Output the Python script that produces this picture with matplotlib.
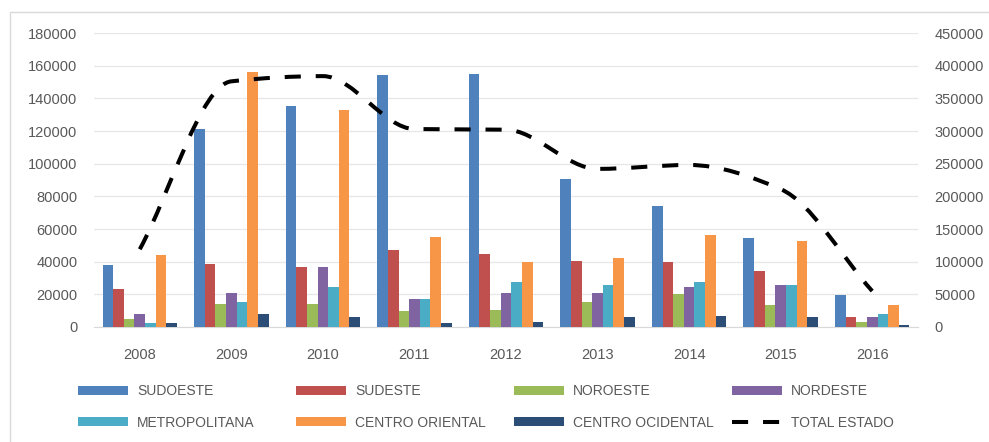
import matplotlib
matplotlib.use("Agg")
import matplotlib.pyplot as plt
import numpy as np
from matplotlib.path import Path
from matplotlib.patches import PathPatch, Rectangle
from matplotlib.lines import Line2D

plt.rcParams['font.family'] = ['Liberation Sans', 'DejaVu Sans']

years = ["2008", "2009", "2010", "2011", "2012", "2013", "2014", "2015", "2016"]
sudoeste = [38000, 121500, 135500, 154000, 155000, 90500, 74000, 54500, 19500]
sudeste = [23000, 38500, 37000, 47000, 45000, 40500, 39500, 34000, 6000]
noroeste = [5000, 14300, 14300, 9800, 10700, 15300, 20000, 13500, 3300]
nordeste = [8000, 21000, 37000, 17200, 21000, 21000, 24500, 25600, 6000]
metropolitana = [2500, 15300, 24500, 17200, 27400, 25600, 27400, 25600, 8000]
centro_oriental = [44000, 156000, 132700, 55200, 39700, 42300, 56300, 52600, 13500]
centro_ocidental = [2500, 8000, 6000, 2500, 3300, 6000, 7000, 6000, 1500]
total_estado = [119000, 376000, 384000, 303000, 302000, 242000, 248000, 211000, 55000]

series = [
    ("SUDOESTE", sudoeste, "#4F81BD"),
    ("SUDESTE", sudeste, "#C0504D"),
    ("NOROESTE", noroeste, "#9BBB59"),
    ("NORDESTE", nordeste, "#8064A2"),
    ("METROPOLITANA", metropolitana, "#4BACC6"),
    ("CENTRO ORIENTAL", centro_oriental, "#F79646"),
    ("CENTRO OCIDENTAL", centro_ocidental, "#2C4D75"),
]

W, H = 989, 442
fig = plt.figure(figsize=(W / 100, H / 100), dpi=100)
fig.patches.append(Rectangle((9.5 / W, -0.05), 1.0, (H - 12) / H + 0.05, transform=fig.transFigure,
                             fill=False, edgecolor="#D9D9D9", linewidth=1.0))

ax = fig.add_axes([94 / W, 1 - 327 / H, (918 - 94) / W, (327 - 33) / H])
ax2 = ax.twinx()

x = np.arange(len(years))
bw = 0.116
n = len(series)
handles = []
for i, (name, vals, col) in enumerate(series):
    offs = (i - (n - 1) / 2) * bw
    b = ax.bar(x + offs, vals, width=bw, color=col, label=name, zorder=3)
    handles.append(b)

ax.set_xlim(-0.5, len(years) - 0.5)
ax.set_ylim(0, 180000)
ax.set_yticks(np.arange(0, 180001, 20000))
ax2.set_ylim(0, 450000)
ax2.set_yticks(np.arange(0, 450001, 50000))
ax.grid(axis='y', color="#D9D9D9", linewidth=0.9, linestyle=(0, (1, 0.6)), zorder=0)
ax.set_axisbelow(True)
ax.set_xticks(x)
ax.set_xticklabels(years)

for a in (ax, ax2):
    for s in a.spines.values():
        s.set_visible(False)
    a.tick_params(length=0, labelsize=10.5, labelcolor="#595959")
ax.spines['bottom'].set_visible(True)
ax.spines['bottom'].set_color("#D9D9D9")
ax.tick_params(axis='x', pad=15)
ax.tick_params(axis='y', pad=12)
ax2.tick_params(axis='y', pad=12)

# smoothed total line: monotone cubic Bezier through the data points
tx = x.astype(float)
ty = np.array(total_estado, dtype=float)
h = np.diff(tx)
d = np.diff(ty) / h
m = np.zeros_like(ty)
m[0], m[-1] = d[0], d[-1]
for k in range(1, len(ty) - 1):
    if d[k - 1] * d[k] > 0:
        m[k] = 2.0 / (1.0 / d[k - 1] + 1.0 / d[k])
verts = [(tx[0], ty[0])]
codes = [Path.MOVETO]
for i in range(len(ty) - 1):
    hi = h[i] / 3.0
    verts += [(tx[i] + hi, ty[i] + m[i] * hi),
              (tx[i + 1] - hi, ty[i + 1] - m[i + 1] * hi),
              (tx[i + 1], ty[i + 1])]
    codes += [Path.CURVE4] * 3
dash = (0, (4.0, 3.7))
patch = PathPatch(Path(verts, codes), fill=False, edgecolor="black", linewidth=2.9,
                  linestyle=dash, capstyle='butt', zorder=5)
ax2.add_patch(patch)
line_handle = Line2D([], [], color="black", linewidth=2.9, linestyle=dash)

labels = [s[0] for s in series] + ["TOTAL ESTADO"]
hs = handles + [line_handle]
col_x = [78, 296, 514, 732]
for c in range(4):
    idx = [c, c + 4]
    leg = fig.legend([hs[i] for i in idx], [labels[i] for i in idx], ncol=1,
                     loc='center left', bbox_to_anchor=(col_x[c] / W, 1 - 407 / H),
                     frameon=False, handlelength=3.6, handleheight=0.58, handletextpad=0.65,
                     labelspacing=1.25, fontsize=10, borderpad=0, borderaxespad=0,
                     labelcolor="#595959")
fig.savefig("out.png", dpi=100)
